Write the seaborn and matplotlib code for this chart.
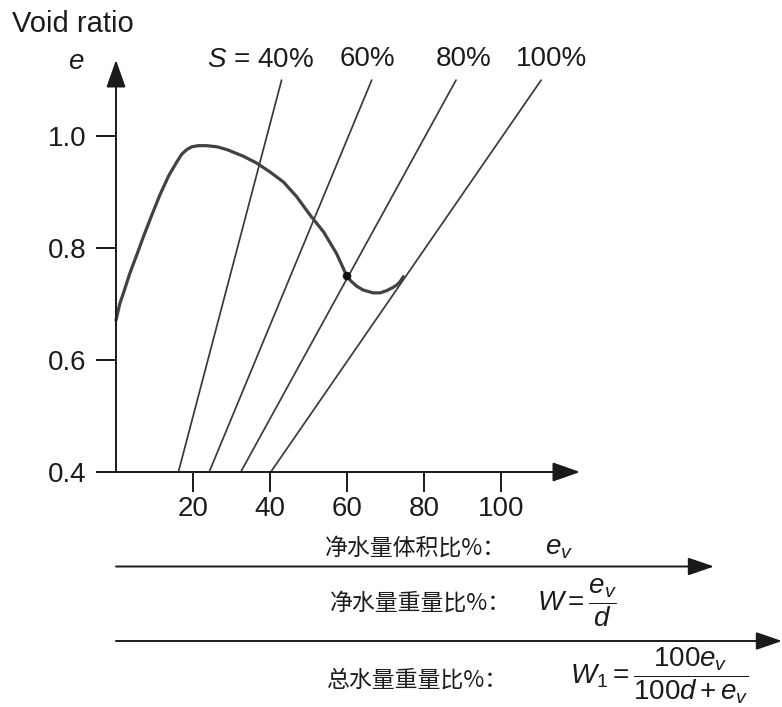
import matplotlib
matplotlib.use('Agg')
import matplotlib.pyplot as plt
import seaborn as sns
import pandas as pd
from matplotlib.patches import FancyArrowPatch

# ---------------- data ----------------
curve_x = [0.0, 1.0, 1.9, 3.6, 5.4, 7.1, 9.3, 11.4, 13.6, 14.0, 15.8, 17.1, 18.4, 19.7,
           21.4, 23.5, 26.2, 28.8, 33.1, 36.5, 40.0, 43.5, 46.9, 50.4, 53.9, 57.3,
           60.0, 61.2, 62.5, 64.2, 66.8, 68.6, 70.3, 72.0, 72.9, 73.8, 74.6]
curve_e = [0.671, 0.701, 0.719, 0.755, 0.788, 0.820, 0.859, 0.895, 0.928, 0.933, 0.954,
           0.968, 0.976, 0.981, 0.983, 0.983, 0.981, 0.976, 0.964, 0.952, 0.936, 0.918,
           0.892, 0.859, 0.829, 0.790, 0.749, 0.740, 0.732, 0.725, 0.720, 0.720, 0.724,
           0.730, 0.734, 0.740, 0.749]

point_x = [60.0]
point_e = [0.75]

sat_labels = ['40%', '60%', '80%', '100%']
sat_e = [0.4, 1.1]
sat_x_bottom = [16.2, 24.2, 32.4, 40.2]
sat_x_top = [43.0, 66.4, 88.3, 110.4]

x_ticks = [20, 40, 60, 80, 100]
x_tick_labels = ['20', '40', '60', '80', '100']
y_ticks = [0.4, 0.6, 0.8, 1.0]
y_tick_labels = ['0.4', '0.6', '0.8', '1.0']

row_labels = ['净水量体积比%：', '净水量重量比%：', '总水量重量比%：']
row_formulas = [r'$e_v$', r'$W=\dfrac{e_v}{d}$', r'$W_1=\dfrac{100e_v}{100d+e_v}$']

# ---------------- style ----------------
sns.set_theme(style='white')
plt.rcParams['font.family'] = ['Liberation Sans', 'Noto Sans CJK SC', 'DejaVu Sans']
plt.rcParams['mathtext.fontset'] = 'custom'
plt.rcParams['mathtext.rm'] = 'Liberation Sans'
plt.rcParams['mathtext.it'] = 'Liberation Sans:italic'
plt.rcParams['mathtext.bf'] = 'Liberation Sans:bold'
plt.rcParams['lines.solid_joinstyle'] = 'round'

W, H = 782, 707
TXT = '#1c1c1c'
fig = plt.figure(figsize=(W / 100, H / 100), dpi=100)


def fx(px):
    return px / W


def fy(py):
    return 1 - py / H


ax = fig.add_axes([fx(116), fy(472), (580 - 116) / W, (472 - 60) / H])
ax.set_xlim(0, 120.5)
ax.set_ylim(0.4, 1.136)
ax.patch.set_alpha(0)
for s in ax.spines.values():
    s.set_visible(False)

# saturation lines
for lab, xb, xt in zip(sat_labels, sat_x_bottom, sat_x_top):
    df = pd.DataFrame({'x': [xb, xt], 'e': sat_e})
    sns.lineplot(data=df, x='x', y='e', ax=ax, color='#3a3a3a', lw=1.25,
                 sort=False, estimator=None, clip_on=False)

# e-curve
dfc = pd.DataFrame({'x': curve_x, 'e': curve_e})
sns.lineplot(data=dfc, x='x', y='e', ax=ax, color='#424242', lw=2.3,
             sort=False, estimator=None, clip_on=False)
sns.scatterplot(x=point_x, y=point_e, ax=ax, color='#111111', s=38,
                edgecolor='none', zorder=5, clip_on=False)

# axes arrows
ax.add_patch(FancyArrowPatch((0, 0.4), (120.5, 0.4), transform=ax.transData,
                             arrowstyle='-|>,head_length=1.7,head_width=0.6',
                             mutation_scale=10, lw=1.4, color='#1a1a1a',
                             shrinkA=0, shrinkB=0, clip_on=False, zorder=6))
ax.add_patch(FancyArrowPatch((0, 0.4), (0, 1.136), transform=ax.transData,
                             arrowstyle='-|>,head_length=1.7,head_width=0.6',
                             mutation_scale=10, lw=1.4, color='#1a1a1a',
                             shrinkA=0, shrinkB=0, clip_on=False, zorder=6))

ax.set_xticks(x_ticks)
ax.set_xticklabels(x_tick_labels)
ax.set_yticks(y_ticks)
ax.set_yticklabels(y_tick_labels)
ax.tick_params(axis='both', direction='out', length=14.5, width=1.4,
               color='#1a1a1a', labelsize=20, labelcolor=TXT)
ax.tick_params(axis='y', pad=7, left=True)
ax.tick_params(axis='x', pad=3, bottom=True)
ax.set_xlabel('')
ax.set_ylabel('')

# ---------------- texts ----------------
fig.text(fx(12), fy(24), 'Void ratio', fontsize=21, color=TXT, ha='left', va='center')
fig.text(fx(76), fy(62), '$e$', fontsize=20, color=TXT, ha='center', va='center')
fig.text(fx(260), fy(60), '$S$ = 40%', fontsize=20, color=TXT, ha='center', va='center')
sat_label_px = [None, 367, 464, 551]
for lab, px in zip(sat_labels[1:], sat_label_px[1:]):
    fig.text(fx(px), fy(59), lab, fontsize=20, color=TXT, ha='center', va='center')

row_cn_px = [(325, 548), (330, 603), (326, 680)]
row_fm_px = [(545, 548), (537, 603), (570, 676)]
for lab, (px, py) in zip(row_labels, row_cn_px):
    fig.text(fx(px), fy(py), lab, fontsize=16.5, color=TXT, ha='left', va='center',
             family=['Noto Sans CJK SC', 'DejaVu Sans'])
for fm, (px, py) in zip(row_formulas, row_fm_px):
    fig.text(fx(px), fy(py), fm, fontsize=20, color=TXT, ha='left', va='center')

# bottom arrows
for (x0, x1, yy) in [(116, 714, 566.5), (116, 782, 641)]:
    fig.add_artist(FancyArrowPatch((fx(x0), fy(yy)), (fx(x1), fy(yy)),
                                   transform=fig.transFigure,
                                   arrowstyle='-|>,head_length=1.6,head_width=0.55',
                                   mutation_scale=10, lw=1.4, color='#1a1a1a',
                                   shrinkA=0, shrinkB=0))

fig.savefig('out.png', dpi=100)
